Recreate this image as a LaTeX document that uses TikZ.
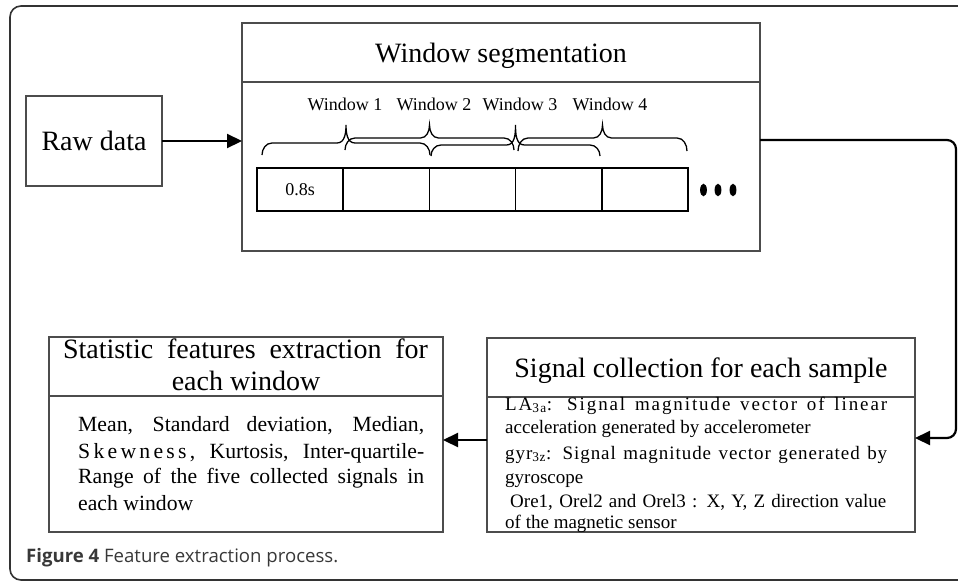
\documentclass[tikz,border=0pt]{standalone}
\usepackage{fontspec}
\usepackage{graphicx}
\setmainfont{Liberation Serif}
\newfontfamily\capfont{Open Sans}
\usetikzlibrary{arrows.meta}
\newcommand\wbrace[5]{%
  \pgfmathsetmacro\wbm{(#1+#2)/2}%
  \draw[brline] (#1,-#3) to[out=90,in=180] (#1+10,-#4) -- (\wbm-9,-#4)
    to[out=0,in=-90] (\wbm,-#5) to[out=-90,in=180] (\wbm+9,-#4) -- (#2-10,-#4)
    to[out=0,in=90] (#2,-#3);}
\begin{document}
\begin{tikzpicture}[x=1pt,y=1pt,
  box/.style={draw=black!70, line width=1.1pt, inner sep=0pt, outer sep=0pt},
  cell/.style={draw=black, line width=1.6pt, minimum width=86.2pt, minimum height=43pt, inner sep=0pt, outer sep=0pt, font=\fontsize{18}{21}\selectfont},
  arr/.style={line width=2.2pt, -{Triangle[length=15pt,width=14pt]}},
  ttl/.style={font=\fontsize{28}{32}\selectfont, inner sep=0pt, anchor=base},
  stl/.style={font=\fontsize{21.7}{26}\selectfont, inner sep=0pt, anchor=base west},
  sgl/.style={font=\fontsize{19}{23}\selectfont, inner sep=0pt, anchor=base west},
  wl/.style={font=\fontsize{18}{21}\selectfont, inner sep=0pt, anchor=base},
  brline/.style={line width=1.3pt},
  divl/.style={draw=black!70, line width=1.1pt},
  dotst/.style={fill=black}]

\clip (0,0) rectangle (958,-581);
\draw[black!80, line width=1.6pt, rounded corners=11pt] (10,-6) rectangle (1000,-580);

% Raw data
\node[box, minimum width=136pt, minimum height=90pt, font=\fontsize{28}{32}\selectfont] (raw) at (94,-141) {Raw data};

% Window segmentation
\node[box, minimum width=518pt, minimum height=228pt] (ws) at (501,-137) {};
\draw[divl] (ws.west |- 0,-82) -- (ws.east |- 0,-82);
\node[ttl] (wst) at (501,-62) {Window segmentation};

\node[wl] (w1) at (345,-110) {Window 1};
\node[wl] (w2) at (434,-110) {Window 2};
\node[wl] (w3) at (520,-110) {Window 3};
\node[wl] (w4) at (610,-110) {Window 4};

\wbrace{262}{430}{155}{143}{125}
\wbrace{345}{514}{150}{138}{125}
\wbrace{431}{600}{156}{145}{125}
\wbrace{518}{687}{151}{138}{125}

\node[cell] (c1) at (300.1,-189.5) {0.8s};
\node[cell] (c2) at (386.3,-189.5) {};
\node[cell] (c3) at (472.5,-189.5) {};
\node[cell] (c4) at (558.7,-189.5) {};
\node[cell] (c5) at (644.9,-189.5) {};

\fill[dotst] (703.5,-190) ellipse [x radius=3.4pt, y radius=6.3pt];
\fill[dotst] (718,-190) ellipse [x radius=3.4pt, y radius=6.3pt];
\fill[dotst] (733,-190) ellipse [x radius=3.4pt, y radius=6.3pt];

\draw[arr] (raw.east) -- (raw.east -| ws.west);

% Signal collection
\node[box, minimum width=428pt, minimum height=194pt] (sig) at (701,-435) {};
\draw[divl] (sig.west |- 0,-397) -- (sig.east |- 0,-397);
\node[ttl] (sigt) at (701,-377) {Signal collection for each sample};

\node[sgl] (s1) at (505,-410) {\makebox[382pt][s]{{\addfontfeature{LetterSpace=10}LA\textsubscript{3a}: Signal magnitude vector of linear}}};
\node[sgl] (s2) at (505,-433) {acceleration generated by accelerometer};
\node[sgl] (s3) at (505,-459) {\makebox[382pt][s]{{\addfontfeature{LetterSpace=5}gyr\textsubscript{3z}: Signal magnitude vector generated by}}};
\node[sgl] (s4) at (505,-483) {gyroscope};
\node[sgl] (s5) at (510,-507) {\makebox[376pt][s]{Ore1, Orel2 and Orel3 : X, Y, Z direction value}};
\node[sgl] (s6) at (505,-528) {of the magnetic sensor};

\coordinate (k1) at (956,-140);
\coordinate (k2) at (956,-438);
\draw[arr, rounded corners=9pt] (ws.east |- k1) -- (k1) -- (k2) -- (k2 -| sig.east);

% Statistic features
\node[box, minimum width=394pt, minimum height=195pt] (st) at (246,-434.5) {};
\draw[divl] (st.west |- 0,-396) -- (st.east |- 0,-396);
\node[ttl] (stt1) at (245.5,-358) {\makebox[365pt][s]{Statistic features extraction for}};
\node[ttl] (stt2) at (246,-390) {each window};

\node[stl] (st1) at (78,-431) {\makebox[346pt][s]{Mean, Standard deviation, Median,}};
\node[stl] (st2) at (78,-458) {\makebox[346pt][s]{{\addfontfeature{LetterSpace=15}Skewness,} Kurtosis, Inter-quartile-}};
\node[stl] (st3) at (78,-483) {\makebox[346pt][s]{Range of the five collected signals in}};
\node[stl] (st4) at (78,-510) {each window};

\coordinate (k3) at (0,-440);
\draw[arr] (sig.west |- k3) -- (st.east |- k3);

% Caption
\node[anchor=base west, inner sep=0pt, text=black!78] (cap) at (26,-562) {\resizebox{312pt}{!}{\capfont\fontsize{17}{20}\selectfont\textbf{Figure 4} Feature extraction process.}};
\end{tikzpicture}
\end{document}
